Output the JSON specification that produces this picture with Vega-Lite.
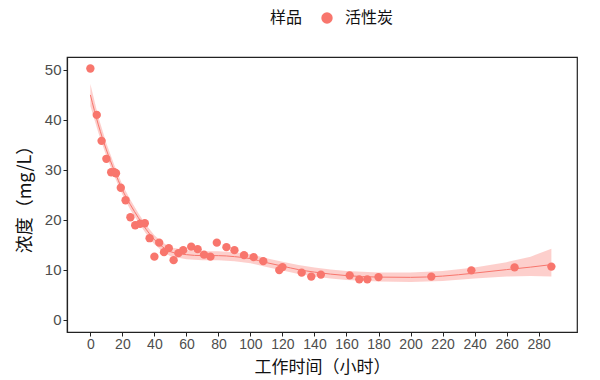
{
  "$schema": "https://vega.github.io/schema/vega-lite/v6.json",
  "autosize": {"type": "none"},
  "width": 510,
  "height": 275,
  "padding": {"left": 67, "top": 57, "right": 23, "bottom": 48},
  "background": "white",
  "config": {
    "view": {"stroke": "#222222", "strokeWidth": 1.2},
    "axis": {
      "grid": false,
      "domainColor": "#222222",
      "domainWidth": 1.2,
      "tickColor": "#222222",
      "tickSize": 4,
      "labelColor": "#4d4d4d",
      "labelFont": "Liberation Sans",
      "labelFontSize": 15,
      "titleFont": "Noto Sans CJK SC",
      "titleFontSize": 17,
      "titleFontWeight": "normal",
      "titleColor": "#111111"
    }
  },
  "datasets": {
    "pts": [
      {"t": 0, "c": 50.3}, {"t": 4, "c": 41.0}, {"t": 7, "c": 35.8}, {"t": 10, "c": 32.2},
      {"t": 13, "c": 29.5}, {"t": 15, "c": 29.5}, {"t": 16, "c": 29.3}, {"t": 19, "c": 26.4},
      {"t": 22, "c": 23.9}, {"t": 25, "c": 20.5}, {"t": 28, "c": 18.9}, {"t": 31, "c": 19.2},
      {"t": 34, "c": 19.3}, {"t": 37, "c": 16.3}, {"t": 40, "c": 12.6}, {"t": 43, "c": 15.4},
      {"t": 46, "c": 13.5}, {"t": 49, "c": 14.3}, {"t": 52, "c": 11.9}, {"t": 55, "c": 13.3},
      {"t": 58, "c": 13.9}, {"t": 63, "c": 14.6}, {"t": 67, "c": 14.1}, {"t": 71, "c": 13.0},
      {"t": 75, "c": 12.6}, {"t": 79, "c": 15.4}, {"t": 85, "c": 14.5}, {"t": 90, "c": 13.9},
      {"t": 96, "c": 12.9}, {"t": 102, "c": 12.5}, {"t": 108, "c": 11.7}, {"t": 118, "c": 9.9},
      {"t": 120, "c": 10.5}, {"t": 132, "c": 9.4}, {"t": 138, "c": 8.6}, {"t": 144, "c": 9.0},
      {"t": 162, "c": 8.85}, {"t": 168, "c": 8.05}, {"t": 173, "c": 8.05}, {"t": 180, "c": 8.5},
      {"t": 213, "c": 8.6}, {"t": 238, "c": 9.85}, {"t": 265, "c": 10.45}, {"t": 288, "c": 10.6}
    ],
    "fit": [
      {"t": 0, "fit": 45.0, "lo": 42.8, "hi": 47.2},
      {"t": 5, "fit": 39.0, "lo": 37.4, "hi": 40.6},
      {"t": 10, "fit": 34.0, "lo": 32.7, "hi": 35.3},
      {"t": 15, "fit": 29.8, "lo": 28.7, "hi": 30.9},
      {"t": 20, "fit": 26.0, "lo": 25.0, "hi": 27.0},
      {"t": 25, "fit": 23.0, "lo": 22.0, "hi": 24.0},
      {"t": 30, "fit": 20.4, "lo": 19.5, "hi": 21.3},
      {"t": 35, "fit": 18.0, "lo": 17.1, "hi": 18.9},
      {"t": 40, "fit": 16.0, "lo": 15.1, "hi": 16.9},
      {"t": 45, "fit": 14.6, "lo": 13.7, "hi": 15.5},
      {"t": 50, "fit": 13.6, "lo": 12.7, "hi": 14.5},
      {"t": 60, "fit": 13.0, "lo": 12.1, "hi": 13.9},
      {"t": 70, "fit": 12.8, "lo": 11.9, "hi": 13.7},
      {"t": 80, "fit": 12.8, "lo": 11.9, "hi": 13.7},
      {"t": 90, "fit": 12.6, "lo": 11.7, "hi": 13.5},
      {"t": 100, "fit": 12.2, "lo": 11.3, "hi": 13.1},
      {"t": 110, "fit": 11.4, "lo": 10.5, "hi": 12.3},
      {"t": 120, "fit": 10.7, "lo": 9.8, "hi": 11.6},
      {"t": 130, "fit": 10.0, "lo": 9.1, "hi": 10.9},
      {"t": 140, "fit": 9.5, "lo": 8.6, "hi": 10.4},
      {"t": 150, "fit": 9.1, "lo": 8.2, "hi": 10.0},
      {"t": 160, "fit": 8.8, "lo": 7.9, "hi": 9.7},
      {"t": 180, "fit": 8.5, "lo": 7.6, "hi": 9.4},
      {"t": 200, "fit": 8.45, "lo": 7.5, "hi": 9.4},
      {"t": 220, "fit": 8.7, "lo": 7.7, "hi": 9.7},
      {"t": 240, "fit": 9.3, "lo": 8.2, "hi": 10.4},
      {"t": 260, "fit": 10.0, "lo": 8.6, "hi": 11.5},
      {"t": 275, "fit": 10.5, "lo": 8.7, "hi": 12.6},
      {"t": 288, "fit": 11.0, "lo": 8.6, "hi": 14.2}
    ]
  },
  "encoding": {
    "x": {
      "field": "t", "type": "quantitative",
      "title": "工作时间（小时）",
      "scale": {"domain": [-14.6, 304], "nice": false, "zero": false},
      "axis": {"values": [0, 20, 40, 60, 80, 100, 120, 140, 160, 180, 200, 220, 240, 260, 280], "labelFontSize": 14, "labelOverlap": false, "labelBound": false, "titlePadding": 8, "labelPadding": 1}
    }
  },
  "layer": [
    {
      "data": {"name": "fit"},
      "mark": {"type": "area", "color": "#F8766D", "opacity": 0.35},
      "encoding": {
        "y": {
          "field": "lo", "type": "quantitative",
          "title": "浓度（mg/L）",
          "scale": {"domain": [-2.5, 52.6], "nice": false, "zero": false},
          "axis": {"values": [0, 10, 20, 30, 40, 50], "titlePadding": 10, "titleFontSize": 18}
        },
        "y2": {"field": "hi"}
      }
    },
    {
      "data": {"name": "fit"},
      "mark": {"type": "line", "color": "#F8766D", "strokeWidth": 1, "interpolate": "monotone"},
      "encoding": {
        "y": {"field": "fit", "type": "quantitative"}
      }
    },
    {
      "data": {"name": "pts"},
      "transform": [{"calculate": "'活性炭'", "as": "样品"}],
      "mark": {"type": "point", "filled": true, "opacity": 1, "size": 70},
      "encoding": {
        "y": {"field": "c", "type": "quantitative"},
        "color": {
          "field": "样品", "type": "nominal",
          "scale": {"range": ["#F8766D"]},
          "legend": {
            "orient": "none",
            "legendX": 203,
            "legendY": -47,
            "direction": "horizontal",
            "titleOrient": "left",
            "title": "样品",
            "titleFont": "Noto Sans CJK SC",
            "titleFontSize": 16,
            "titleFontWeight": "normal",
            "titleColor": "#111111",
            "titlePadding": 16,
            "labelFont": "Noto Sans CJK SC",
            "labelFontSize": 16,
            "labelColor": "#111111",
            "symbolSize": 130,
            "symbolType": "circle",
            "labelOffset": 10
          }
        }
      }
    }
  ]
}
